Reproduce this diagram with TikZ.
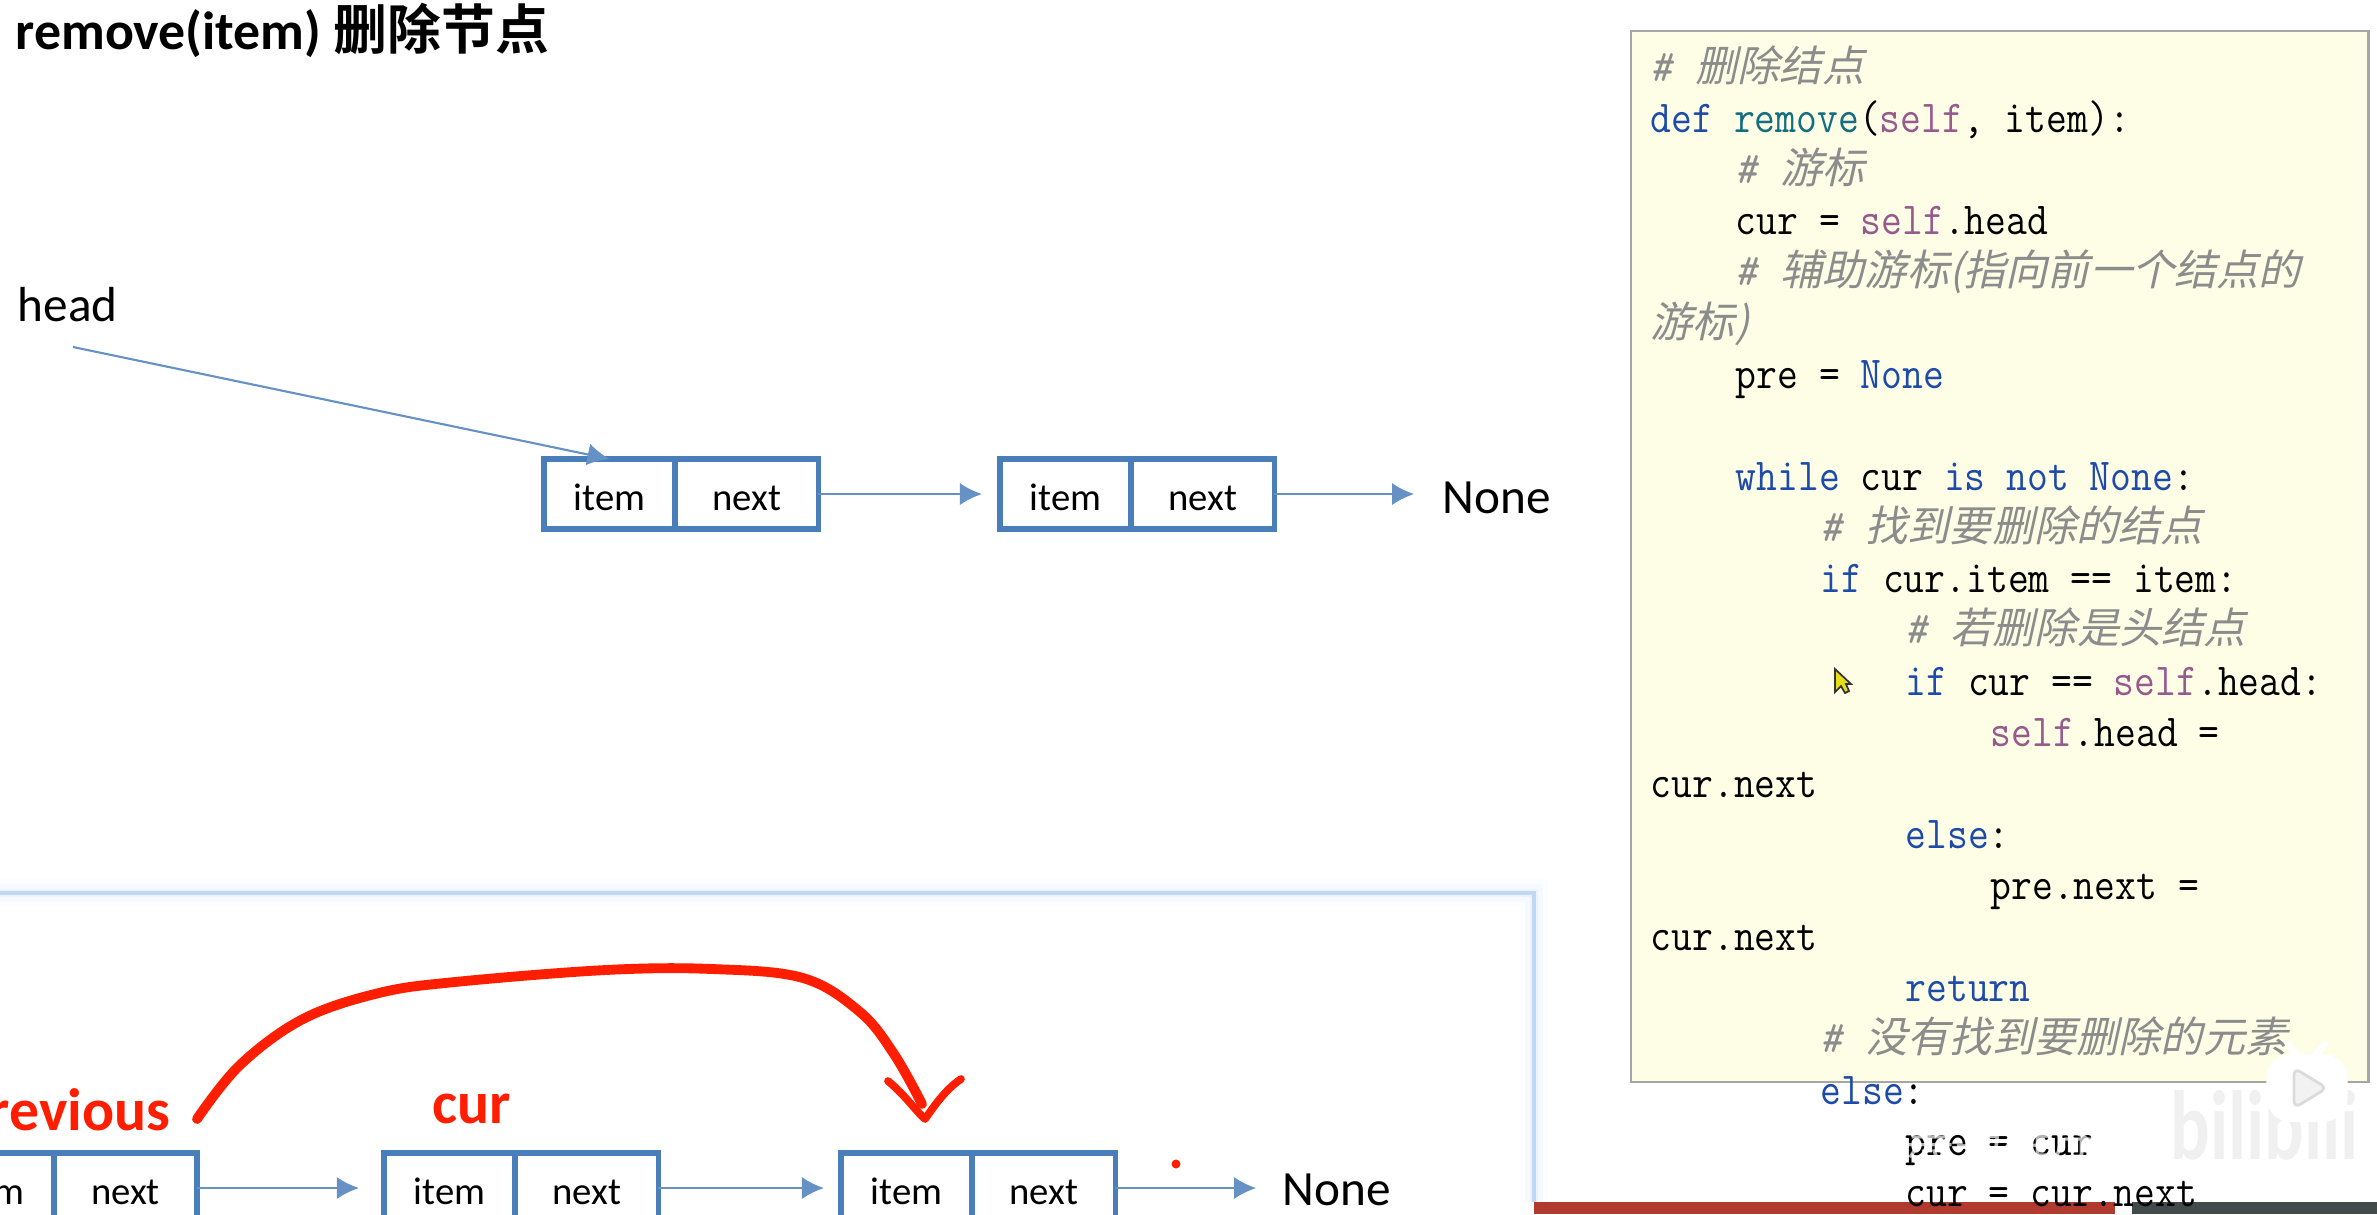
\documentclass[tikz,border=0pt]{standalone}
\usepackage{fontspec}
\setsansfont{Carlito}
\setmonofont[FakeStretch=0.885]{Latin Modern Mono}
\newfontfamily\cjkbold[BoldFont={Noto Sans CJK SC Bold}]{Noto Sans CJK SC}
\newfontfamily\cjkslant[FakeSlant=0.22]{Noto Sans CJK SC}
\newfontfamily\cjkplain{Noto Sans CJK SC}
\newfontfamily\markfont[FakeStretch=0.75]{Carlito}
\usepackage{xcolor}
\usetikzlibrary{arrows.meta,positioning,calc}
\definecolor{linkblue}{RGB}{74,126,187}
\definecolor{glowblue}{RGB}{110,165,230}
\definecolor{codeyellow}{RGB}{254,254,230}
\definecolor{codegray}{RGB}{140,140,140}
\definecolor{kwblue}{RGB}{30,75,170}
\definecolor{fnteal}{RGB}{20,110,130}
\definecolor{selfpurple}{RGB}{150,90,140}
\definecolor{inkred}{RGB}{255,30,0}
\definecolor{barred}{RGB}{176,58,46}
\definecolor{bardark}{RGB}{66,74,74}
\newcommand{\kw}[1]{\textcolor{kwblue}{#1}}
\newcommand{\selfw}{\textcolor{selfpurple}{self}}
\newcommand{\cjkc}[1]{\textcolor{codegray}{{\cjkslant\fontsize{12}{14.54}\selectfont #1}}}
\newcommand{\cmt}[1]{\textcolor{codegray}{\textit{\#}~}\cjkc{#1}}
\newcommand{\ind}[1]{\hspace*{#1\dimexpr 24.16pt\relax}}
\tikzset{cellbox/.style={rectangle, draw=linkblue, line width=1.5pt, minimum height=0.70cm, outer sep=0pt, font=\sffamily\fontsize{11}{13}\selectfont, inner sep=0pt, text height=9.5pt, text depth=0pt},
 itemcell/.style={cellbox, minimum width=1.31cm},
 nextcell/.style={cellbox, minimum width=1.43cm},
 arrow/.style={-{Latex[length=2.2mm,width=2.2mm]}, line width=0.6pt, draw=linkblue!85},
 nonelabel/.style={font=\sffamily\fontsize{14}{16}\selectfont, inner sep=0pt},
 redlabel/.style={font=\sffamily\bfseries\fontsize{17}{19}\selectfont, text=inkred, inner sep=0pt},
 inkstroke/.style={draw=inkred, line width=2.2pt, line cap=round, line join=round}}
\begin{document}
\begin{tikzpicture}[x=0.01cm,y=-0.01cm]
\useasboundingbox (0,0) rectangle (2377,1214);
% bars and lower panel
\fill[barred] (1534,1202) rectangle (2115,1214);
\fill[bardark] (2132,1202) rectangle (2377,1214);
\foreach \w/\o in {8/0.02,5/0.04,2.5/0.08,1/0.35}{\draw[glowblue, opacity=\o, line width=\w pt] (-20,893) -- (1534,893) -- (1534,1202);}
\node[inner sep=0pt, anchor=west] (title) at (15,30) {\sffamily\bfseries\fontsize{15.3}{18}\selectfont remove(item) {\cjkbold\bfseries 删除节点}};
\node[nonelabel, anchor=base west] (head) at (17,321) {head};
% upper list
\node[itemcell, anchor=north west] (item1) at (544,459) {item};
\node[nextcell, right=0pt of item1] (next1) {next};
\node[itemcell, anchor=north west] (item2) at (1000,459) {item};
\node[nextcell, right=0pt of item2] (next2) {next};
\node[nonelabel, anchor=west] (none1) at (1442,498) {None};
\coordinate (headtail) at (73,347);
\draw[arrow] (headtail) -- (item1.north);
\draw[arrow] (next1.east) -- ($(item2.west)+(-18,0)$);
\draw[arrow] (next2.east) -- ++(140,0);
% lower list
\node[itemcell, anchor=north east] (item3) at (54,1153) {item};
\node[nextcell, right=0pt of item3] (next3) {next};
\node[itemcell, anchor=north west] (item4) at (384,1153) {item};
\node[nextcell, right=0pt of item4] (next4) {next};
\node[itemcell, anchor=north west] (item5) at (841,1153) {item};
\node[nextcell, right=0pt of item5] (next5) {next};
\node[nonelabel, anchor=west] (none2) at (1282,1190) {None};
\draw[arrow] (next3.east) -- ($(item4.west)+(-25,0)$);
\draw[arrow] (next4.east) -- ($(item5.west)+(-17,0)$);
\draw[arrow] (next5.east) -- ++(141,0);
\node[redlabel, anchor=base east] (previous) at (171,1130) {previous};
\node[redlabel, anchor=base west] (curlabel) at (432,1123) {cur};
\fill[inkred] (1176,1164) circle (4.5);
% hand drawn link
\draw[inkstroke, line width=2.8pt] plot[smooth, tension=0.6] coordinates {(197,1119) (240,1065) (303,1019) (379,993) (455,982) (606,970) (712,969) (803,978) (860,1012) (894,1054) (922,1104)};
\draw[inkstroke] (888,1081) .. controls (905,1095) and (915,1110) .. (925,1119) .. controls (935,1105) and (945,1090) .. (961,1079);
% code panel
\node[rectangle, draw=black!35, fill=codeyellow, line width=0.6pt, anchor=north west, minimum width=7.37cm, minimum height=10.50cm, inner sep=0pt] (codebox) at (1630,30) {};
\node[anchor=north west, inner sep=0pt, align=left, font=\ttfamily\fontsize{13}{14.54}\selectfont] (codetext) at (1650,45) {%
\cmt{删除结点}\\
\kw{def} \textcolor{fnteal}{remove}(\selfw, item):\\
\ind{1}\cmt{游标}\\
\ind{1}cur = \selfw.head\\
\ind{1}\cmt{辅助游标(指向前一个结点的}\\
\cjkc{游标)}\\
\ind{1}pre = \kw{None}\\
\mbox{}\\
\ind{1}\kw{while} cur \kw{is} \kw{not} \kw{None}:\\
\ind{2}\cmt{找到要删除的结点}\\
\ind{2}\kw{if} cur.item == item:\\
\ind{3}\cmt{若删除是头结点}\\
\ind{3}\kw{if} cur == \selfw.head:\\
\ind{4}\selfw.head =\\
cur.next\\
\ind{3}\kw{else}:\\
\ind{4}pre.next =\\
cur.next\\
\ind{3}\kw{return}\\
\ind{2}\cmt{没有找到要删除的元素}\\
\ind{2}\kw{else}:\\
\ind{3}pre = cur\\
\ind{3}cur = cur.next};
% pointer and player badge
\filldraw[draw=black!80, fill=yellow!90!black, line width=0.5pt] (1835,669) -- (1835,692) -- (1841,686) -- (1845,693) -- (1849,691) -- (1846,684) -- (1851,684) -- cycle;
\node[anchor=west, inner sep=0pt, text=white, text opacity=0.7, font=\cjkplain\fontsize{14}{16}\selectfont] (maker) at (1905,1136) {黑马程序员};
\node[anchor=west, inner sep=0pt, text=black!6, font=\markfont\bfseries\fontsize{28}{30}\selectfont] (mark) at (2170,1125) {bilibili};
\draw[white, line width=2pt, line cap=round] (2298,1056) -- (2288,1044) (2315,1056) -- (2325,1044);
\node[rectangle, rounded corners=7pt, fill=white, minimum width=0.81cm, minimum height=0.68cm] (badge) at (2307,1088) {};
\filldraw[draw=black!14, fill=black!5, line width=0.8pt, rounded corners=2pt, line join=round] ($(badge.center)+(-13,-20)$) -- ($(badge.center)+(20,0)$) -- ($(badge.center)+(-13,20)$) -- cycle;
\end{tikzpicture}
\end{document}
